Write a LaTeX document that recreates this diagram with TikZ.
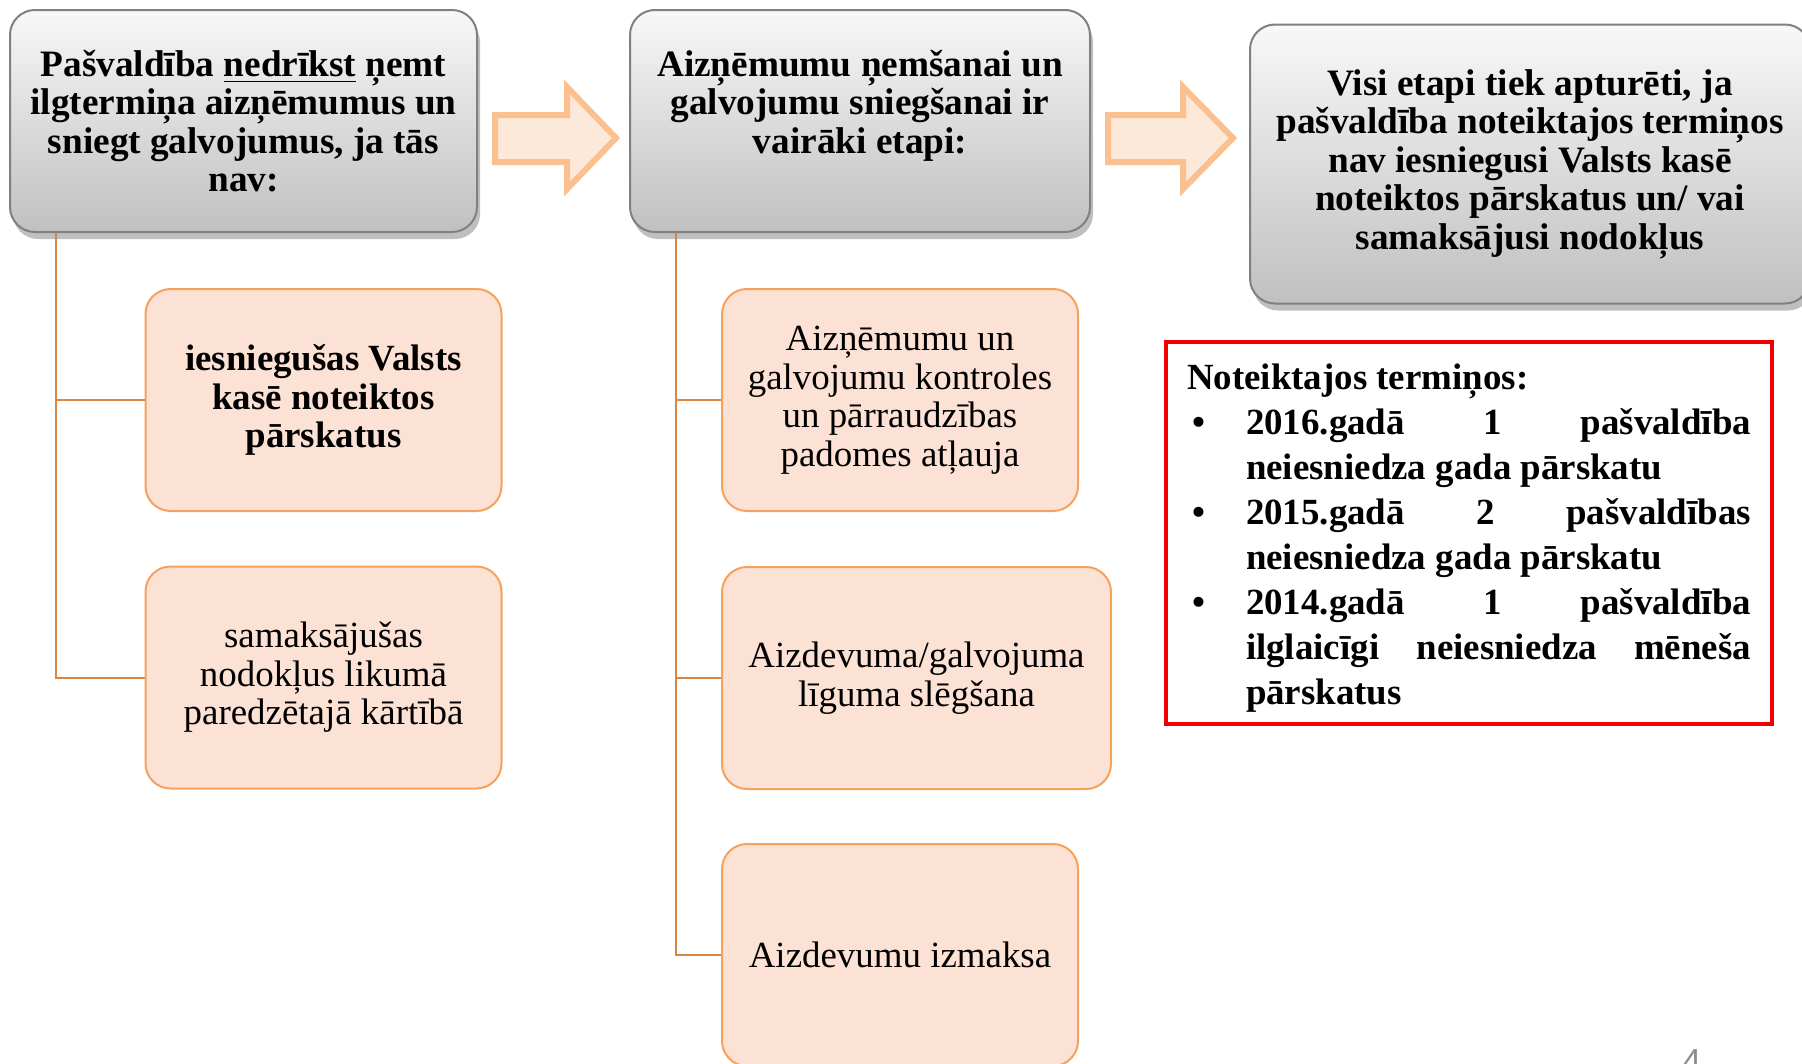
\documentclass[tikz,border=0pt]{standalone}
\usepackage{fontspec}
\setmainfont{Liberation Serif}
\newfontfamily\pagenumfont{Liberation Sans}
\usetikzlibrary{shadows}

\begin{document}
\begin{tikzpicture}[x=0.1mm,y=-0.1mm,
    pv_headbox/.style={shape=rectangle,rounded corners=2.5mm,draw=pv_grayline,line width=0.2mm,top color=pv_graytop,bottom color=pv_graybot,drop shadow={shadow xshift=0.3mm,shadow yshift=-0.7mm,fill=black,opacity=0.25},align=center,font=\bfseries\fontsize{10.6}{10.95}\selectfont},
    pv_stepbox/.style={shape=rectangle,rounded corners=2.5mm,draw=pv_stepline,line width=0.2mm,fill=pv_stepfill,minimum width=35.6mm,minimum height=22.2mm,align=center,font=\fontsize{10.5}{10.95}\selectfont},
    pv_conn/.style={draw=pv_connline,line width=0.2mm},
    pv_arrow/.style={draw=pv_arrowline,fill=pv_arrowfill,line width=0.6mm,line join=miter}]
    \definecolor{pv_graytop}{RGB}{248,248,248}
    \definecolor{pv_graybot}{RGB}{192,192,192}
    \definecolor{pv_grayline}{RGB}{128,128,128}
    \definecolor{pv_stepfill}{RGB}{252,225,213}
    \definecolor{pv_stepline}{RGB}{246,162,92}
    \definecolor{pv_connline}{RGB}{216,134,66}
    \definecolor{pv_arrowfill}{RGB}{253,233,217}
    \definecolor{pv_arrowline}{RGB}{250,192,144}
    \definecolor{pv_red}{RGB}{240,0,0}
    \definecolor{pv_pagenum}{RGB}{140,140,140}
    \useasboundingbox (0,0) rectangle (1802,1064);

    % top row
    \node[pv_headbox,minimum width=46.7mm,minimum height=22.2mm] (head1) at (243.5,121) {Pašvaldība \underline{nedrīkst} ņemt\\ilgtermiņa aizņēmumus un\\sniegt galvojumus, ja tās\\nav:};
    \node[pv_headbox,minimum width=46mm,minimum height=22.2mm]   (head2) at (860,121)   {Aizņēmumu ņemšanai un\\galvojumu sniegšanai ir\\vairāki etapi:\\~};
    \node[pv_headbox,minimum width=56mm,minimum height=27.9mm]   (head3) at (1530,164) {Visi etapi tiek apturēti, ja\\pašvaldība noteiktajos termiņos\\nav iesniegusi Valsts kasē\\noteiktos pārskatus un/ vai\\samaksājusi nodokļus};

    \draw[pv_arrow] (495,115) -- (567,115) -- (567,87) -- (616,138) -- (567,189) -- (567,162) -- (495,162) -- cycle;
    \draw[pv_arrow] (1108,115) -- (1183,115) -- (1183,87) -- (1233,138) -- (1183,189) -- (1183,162) -- (1108,162) -- cycle;

    % steps
    \node[pv_stepbox,font=\bfseries\fontsize{10.5}{10.95}\selectfont] (step1) at (323.5,400) {iesniegušas Valsts\\kasē noteiktos\\pārskatus};
    \node[pv_stepbox] (step2) at (323.5,677.5) {samaksājušas\\nodokļus likumā\\paredzētajā kārtībā};
    \node[pv_stepbox] (step3) at (900,400) {Aizņēmumu un\\galvojumu kontroles\\un pārraudzības\\padomes atļauja};
    \node[pv_stepbox,minimum width=38.9mm] (step4) at (916.5,678) {Aizdevuma/galvojuma\\līguma slēgšana};
    \node[pv_stepbox] (step5) at (900,955) {Aizdevumu izmaksa};

    \draw[pv_conn] ([xshift=4.7mm]head1.south west) |- (step1.west);
    \draw[pv_conn] ([xshift=4.7mm]head1.south west) |- (step2.west);
    \draw[pv_conn] ([xshift=4.7mm]head2.south west) |- (step3.west);
    \draw[pv_conn] ([xshift=4.7mm]head2.south west) |- (step4.west);
    \draw[pv_conn] ([xshift=4.7mm]head2.south west) |- (step5.west);

    % red note
    \node[draw=pv_red,line width=0.4mm,minimum height=38.2mm,text width=56.4mm,inner xsep=2.1mm,align=justify,font=\bfseries\fontsize{10.5}{12.8}\selectfont] (note) at (1469,533) {\rule{0pt}{3.5mm}Noteiktajos termiņos:\par
    \begin{list}{\textbullet\hfill}{\setlength{\leftmargin}{5.9mm}\setlength{\labelwidth}{5.4mm}\setlength{\labelsep}{0mm}\setlength{\itemsep}{0pt}\setlength{\parsep}{0pt}\setlength{\topsep}{0pt}\setlength{\partopsep}{0pt}}
    \item 2016.gadā 1 pašvaldība\linebreak neiesniedza gada pārskatu
    \item 2015.gadā 2 pašvaldības\linebreak neiesniedza gada pārskatu
    \item 2014.gadā 1 pašvaldība\linebreak ilglaicīgi neiesniedza mēneša\linebreak pārskatus
    \end{list}};

    \node[font=\pagenumfont\fontsize{9.5}{11}\selectfont,text=pv_pagenum,anchor=base] (pagenum) at (1692,1072) {4};
\end{tikzpicture}
\end{document}
